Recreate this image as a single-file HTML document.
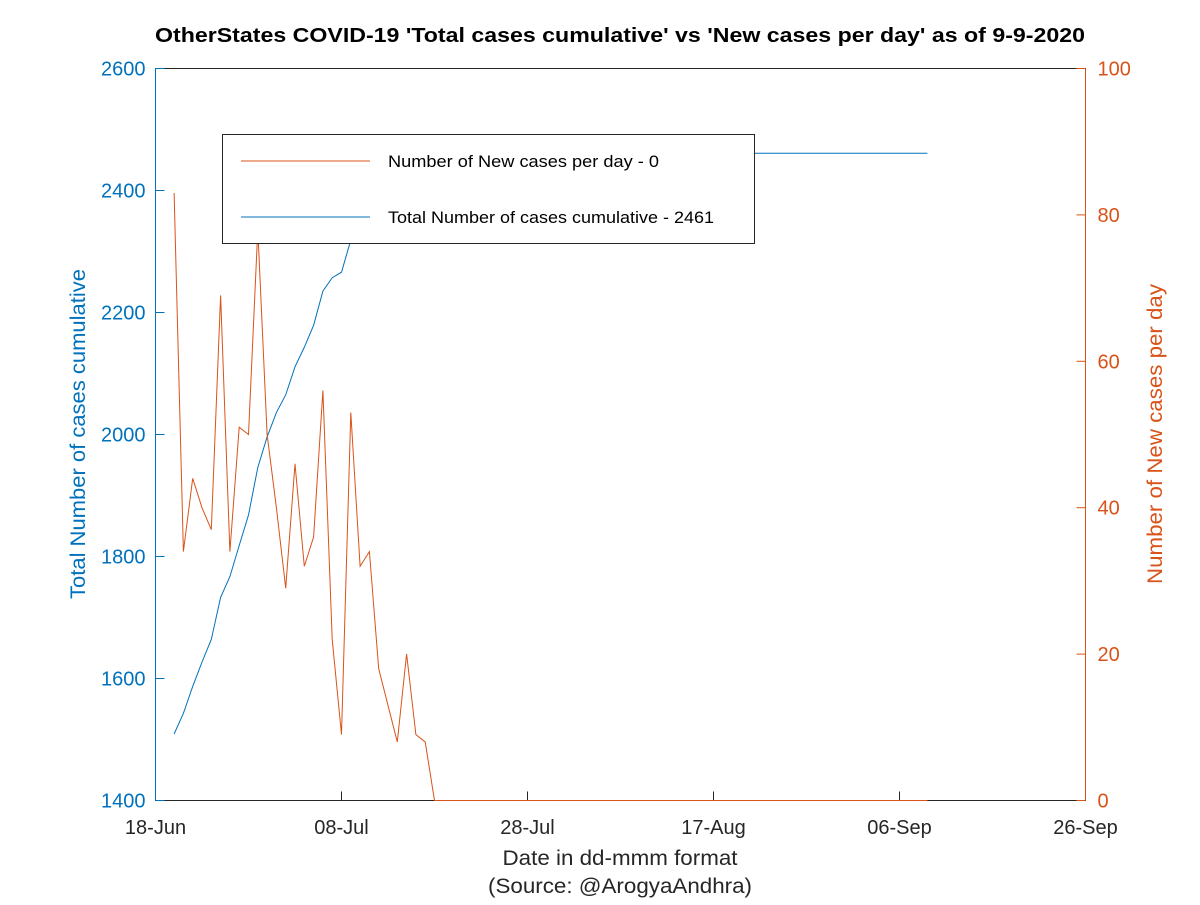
<!DOCTYPE html>
<html><head><meta charset="utf-8"><style>
body{margin:0;background:#fff;}
svg text{font-family:"Liberation Sans",sans-serif;}
</style></head><body>
<svg id="chart" width="1200" height="900" xmlns="http://www.w3.org/2000/svg">
<rect width="1200" height="900" fill="#fff"/>
<text x="620" y="42" text-anchor="middle" font-size="20" font-weight="bold" fill="#000" textLength="930" lengthAdjust="spacingAndGlyphs">OtherStates COVID-19 'Total cases cumulative' vs 'New cases per day' as of 9-9-2020</text>
<rect x="155.5" y="68.5" width="930" height="732" fill="#fff" stroke="#262626" stroke-width="1"/>
<g id="axes"></g>
<g id="series"></g>
<g>
<rect x="222.5" y="134.5" width="532" height="109" fill="#fff" stroke="#262626"/>
<line x1="241" y1="161" x2="370" y2="161" stroke="#d95319" stroke-width="1"/>
<text x="388" y="167" font-size="17" textLength="271" lengthAdjust="spacingAndGlyphs">Number of New cases per day - 0</text>
<line x1="241" y1="217" x2="370" y2="217" stroke="#0072bd" stroke-width="1"/>
<text x="388" y="223" font-size="17" textLength="326" lengthAdjust="spacingAndGlyphs">Total Number of cases cumulative - 2461</text>
</g>
<text x="620" y="865" text-anchor="middle" font-size="21" fill="#262626" textLength="235" lengthAdjust="spacingAndGlyphs">Date in dd-mmm format</text>
<text x="620" y="893" text-anchor="middle" font-size="21" fill="#262626" textLength="264" lengthAdjust="spacingAndGlyphs">(Source: @ArogyaAndhra)</text>
<text transform="translate(85,434) rotate(-90)" text-anchor="middle" font-size="21" fill="#0072bd" textLength="330" lengthAdjust="spacingAndGlyphs">Total Number of cases cumulative</text>
<text transform="translate(1162,434) rotate(-90)" text-anchor="middle" font-size="21" fill="#d95319" textLength="300" lengthAdjust="spacingAndGlyphs">Number of New cases per day</text>
</svg>
<script>
const xTickLabels=["18-Jun","08-Jul","28-Jul","17-Aug","06-Sep","26-Sep"];
const xTickDays=[0,20,40,60,80,100];
const leftTicks=[1400,1600,1800,2000,2200,2400,2600];
const rightTicks=[0,20,40,60,80,100];
const newCases=[83,34,44,40,37,69,34,51,50,78,50,40,29,46,32,36,56,22,9,53,32,34,18,13,8,20,9,8,0];
const totalCases=[1509,1543,1587,1627,1664,1733,1767,1818,1868,1946,1996,2036,2065,2111,2143,2179,2235,2257,2266,2319,2351,2385,2403,2416,2424,2444,2453,2461,2461];
const startDay=2, lastDay=83;
const X0=155.5,X1=1085.5,Y0=800.5,Y1=68.5;
const x=d=>X0+(d/100)*(X1-X0);
const yL=v=>Y0-(v-1400)/1200*(Y0-Y1);
const yR=v=>Y0-v/100*(Y0-Y1);
const NS="http://www.w3.org/2000/svg";
const ax=document.getElementById('axes'), se=document.getElementById('series');
function mk(tag,attrs,parent){const e=document.createElementNS(NS,tag);for(const k in attrs)e.setAttribute(k,attrs[k]);parent.appendChild(e);return e;}
xTickDays.forEach((d,i)=>{
 const l=mk('line',{x1:x(d),x2:x(d),y1:Y0,y2:Y0-9,stroke:'#262626'},ax);
 
 
 const t=mk('text',{x:x(d),y:834,'text-anchor':'middle','font-size':20,fill:'#262626'},ax);
 t.textContent=xTickLabels[i];
 
 
});
mk('line',{x1:X0,x2:X0,y1:Y0,y2:Y1,stroke:'#0072bd'},ax);
mk('line',{x1:X1,x2:X1,y1:Y0,y2:Y1,stroke:'#d95319'},ax);
leftTicks.forEach(v=>{
 const l=mk('line',{x1:X0,x2:X0+9,y1:yL(v),y2:yL(v),stroke:'#0072bd'},ax);
 
 
 const t=mk('text',{x:X0-10,y:yL(v)+7,'text-anchor':'end','font-size':20,fill:'#0072bd'},ax);
 t.textContent=v;
 
 
});
rightTicks.forEach(v=>{
 const l=mk('line',{x1:X1-9,x2:X1,y1:yR(v),y2:yR(v),stroke:'#d95319'},ax);
 
 
 const t=mk('text',{x:X1+12,y:yR(v)+7,'text-anchor':'start','font-size':20,fill:'#d95319'},ax);
 t.textContent=v;
 
 
});
function pts(arr,yf){const p=arr.map((v,i)=>x(startDay+i)+','+yf(v));const last=arr[arr.length-1];p.push(x(lastDay)+','+yf(last));return p.join(' ');}
const bl=mk('polyline',{points:pts(totalCases,yL),fill:'none',stroke:'#0072bd','stroke-width':1},se);


const ol=mk('polyline',{points:pts(newCases,yR),fill:'none',stroke:'#d95319','stroke-width':1},se);


</script>
</body></html>
